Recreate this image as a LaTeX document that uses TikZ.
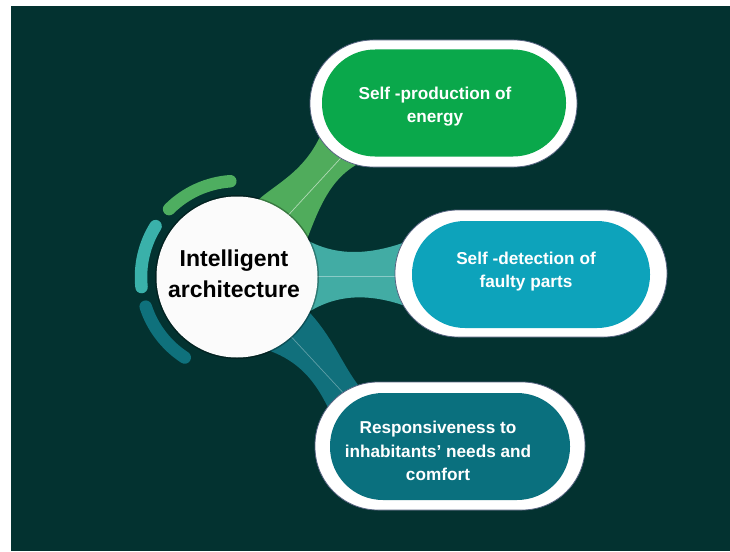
\documentclass[tikz,border=0pt]{standalone}
\usepackage{fontspec}
\setmainfont{Liberation Sans}
\usetikzlibrary{calc}

\definecolor{bg}{RGB}{3,50,48}
\definecolor{leafgreen}{RGB}{10,168,75}
\definecolor{leafteal}{RGB}{13,163,187}
\definecolor{leafdark}{RGB}{10,112,126}
\definecolor{stemgreen}{RGB}{80,172,92}
\definecolor{stemteal}{RGB}{66,172,164}
\definecolor{stemdark}{RGB}{17,112,124}
\definecolor{ringgreen}{RGB}{78,174,96}
\definecolor{ringteal}{RGB}{58,177,170}
\definecolor{ringdark}{RGB}{15,113,124}
\definecolor{pilledge}{RGB}{88,100,130}

\tikzset{
  pillout/.style={draw=pilledge, line width=0.8pt, fill=white, rounded corners=63pt,
                  minimum height=127pt, inner sep=0pt},
  pillin/.style={rounded corners=53pt, minimum height=107pt, inner sep=0pt},
  pilltext/.style={text=white, align=center, font=\fontsize{17.2}{23.5}\selectfont\bfseries},
  hubtext/.style={text=black, align=center, font=\fontsize{23}{31.3}\selectfont\bfseries},
  ringseg/.style={line width=12.5pt, line cap=round},
  vein/.style={line width=0.7pt, opacity=0.55},
}

\begin{document}
\begin{tikzpicture}[x=1pt,y=-1pt]
\useasboundingbox (0,0) rectangle (730,551);
\fill[white] (0,0) rectangle (730,551);
\fill[bg] (11,6) rectangle (730,551);

% stems joining the hub to the three leaves
\fill[stemgreen] (248,212) .. controls (262,188) and (302,180) .. (322,132)
   -- (366,160) .. controls (332,174) and (320,205) .. (306,242) -- cycle;
\draw[vein, white] (282,222) -- (350,148);

\fill[stemteal] (300,236) .. controls (334,258) and (372,256) .. (416,238)
   -- (416,310) .. controls (372,292) and (334,292) .. (300,318) -- cycle;
\draw[vein, white!70!stemteal] (315,276) -- (410,276);

\fill[stemdark] (258,347) .. controls (290,356) and (312,372) .. (330,412)
   -- (362,390) .. controls (342,366) and (332,333) .. (302,305) -- cycle;
\draw[vein, white!60!stemdark] (285,330) -- (348,398);

% segmented ring around the hub (arc radii are in canvas units)
\coordinate (hc) at (237,277);
\draw[ringseg, ringgreen] ($(hc)+(94:96pt)$) arc[start angle=94, end angle=135, radius=96pt];
\draw[ringseg, ringteal]  ($(hc)+(148:96pt)$) arc[start angle=148, end angle=186, radius=96pt];
\draw[ringseg, ringdark]  ($(hc)+(198:96pt)$) arc[start angle=198, end angle=237, radius=96pt];

% hub
\fill[black, opacity=0.3] (hc) circle[radius=82pt];
\node[circle, fill=white!97!gray, minimum size=161pt, inner sep=0pt] (hub) at (hc) {};
\node[hubtext] (hubl) at (234,273.5) {Intelligent\\architecture};

% leaves
\node[pillout, minimum width=267pt] (p1) at (443.5,103.5) {};
\node[pillin, fill=leafgreen, minimum width=244pt] (p1in) at (444,103) {};
\node[pilltext] (t1) at (435,106.6) {Self -production of\\energy};

\node[pillout, minimum width=272pt] (p2) at (531,273.5) {};
\node[pillin, fill=leafteal, minimum width=238pt] (p2in) at (531,274.5) {};
\node[pilltext] (t2) at (526,271.7) {Self -detection of\\faulty parts};

\node[pillout, minimum width=270pt, minimum height=128pt] (p3) at (450,446) {};
\node[pillin, fill=leafdark, minimum width=240pt] (p3in) at (450,446.5) {};
\node[pilltext] (t3) at (438,451) {Responsiveness to\\inhabitants’ needs and\\comfort};
\end{tikzpicture}
\end{document}
